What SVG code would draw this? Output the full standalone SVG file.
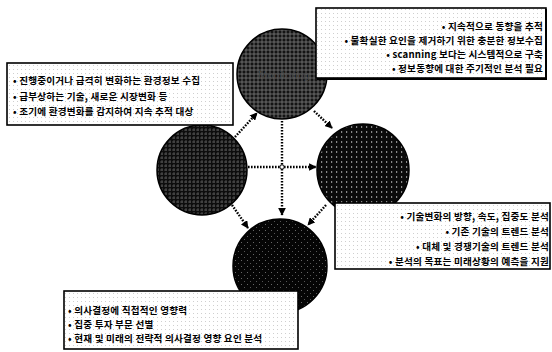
<svg xmlns="http://www.w3.org/2000/svg" width="552" height="352" viewBox="0 0 552 352">
<defs>
<pattern id="meshA" width="4" height="4" patternUnits="userSpaceOnUse">
<rect width="4" height="4" fill="#141414"/>
<path d="M0 2H4M2 0V4" stroke="#7a7a7a" stroke-width="0.8"/>
</pattern>
<pattern id="meshB" width="4" height="4" patternUnits="userSpaceOnUse">
<rect width="4" height="4" fill="#0d0d0d"/>
<path d="M0 2H3M2 0V3" stroke="#666" stroke-width="0.7"/>
</pattern>
<pattern id="meshC" width="5" height="5" patternUnits="userSpaceOnUse">
<rect width="5" height="5" fill="#0a0a0a"/>
<rect x="1" y="1" width="1.2" height="2" fill="#888"/>
</pattern>
<pattern id="meshD" width="6" height="6" patternUnits="userSpaceOnUse">
<rect width="6" height="6" fill="#050505"/>
<rect x="1" y="2" width="1" height="1" fill="#666"/>
<rect x="4" y="5" width="1" height="1" fill="#555"/>
</pattern>
<pattern id="dots" width="4" height="4" patternUnits="userSpaceOnUse">
<rect width="4" height="4" fill="#fff"/>
<rect x="1" y="1" width="1" height="1" fill="#cfcfcf"/>
</pattern>
<marker id="ah" viewBox="0 0 10 10" refX="9" refY="5" markerWidth="3.2" markerHeight="3.2" orient="auto" markerUnits="strokeWidth">
<path d="M0 0L10 5L0 10Z" fill="#000"/>
</marker>
<style>
.c{stroke:#000;stroke-width:1.5}
.box{fill:url(#dots);stroke:#000;stroke-width:1.6}
.t{font-family:"Noto Sans CJK KR","Noto Sans",sans-serif;font-size:9.6px;font-weight:bold;letter-spacing:0.2px;fill:#000}
.e{text-anchor:end}
.lbl{font-family:"Liberation Sans",Arial,sans-serif;font-size:11px;fill:#4a4a4a;text-anchor:middle}
.cn{fill:none;stroke:#000;stroke-width:2.4;stroke-dasharray:1.6 1.4;marker-end:url(#ah)}
</style>
</defs>
<rect width="552" height="352" fill="#fff"/>
<g id="monitoring">
<circle class="c" cx="282" cy="74" r="45" fill="url(#meshA)"/>
<text class="lbl" x="284" y="79">Monitoring</text>
</g>
<g id="scanning">
<circle class="c" cx="202" cy="170" r="45" fill="url(#meshB)"/>
</g>
<g id="forecasting">
<circle class="c" cx="363" cy="170" r="46" fill="url(#meshC)"/>
</g>
<g id="assessment">
<circle class="c" cx="280" cy="266" r="47" fill="url(#meshD)"/>
</g>
<g id="box-monitoring">
<rect class="box" x="316" y="8" width="230" height="70"/>
<path d="M546 9V79H317" fill="none" stroke="#000" stroke-width="2"/>
<text class="t e" x="543" y="30">• 지속적으로 동향을 추적</text>
<text class="t e" x="543" y="44">• 불확실한 요인을 제거하기 위한 충분한 정보수집</text>
<text class="t e" x="543" y="58">• scanning 보다는 시스템적으로 구축</text>
<text class="t e" x="543" y="72">• 정보동향에 대한 주기적인 분석 필요</text>
</g>
<g id="box-scanning">
<rect class="box" x="7" y="63" width="226" height="62"/>
<text class="t" x="13" y="84">• 진행중이거나 급격히 변화하는 환경정보 수집</text>
<text class="t" x="13" y="99.5">• 급부상하는 기술, 새로운 시장변화 등</text>
<text class="t" x="13" y="115">• 조기에 환경변화를 감지하여 지속 추적 대상</text>
</g>
<g id="box-forecasting">
<rect class="box" x="335" y="203" width="215" height="66"/>
<text class="t e" x="549" y="220">• 기술변화의 방향, 속도, 집중도 분석</text>
<text class="t e" x="549" y="235">• 기존 기술의 트렌드 분석</text>
<text class="t e" x="549" y="250">• 대체 및 경쟁기술의 트렌드 분석</text>
<text class="t e" x="549" y="265">• 분석의 목표는 미래상황의 예측을 지원</text>
</g>
<g id="box-assessment">
<rect class="box" x="64" y="291" width="234" height="58"/>
<text class="t" x="68" y="314">• 의사결정에 직접적인 영향력</text>
<text class="t" x="68" y="328">• 집중 투자 부문 선별</text>
<text class="t" x="68" y="342">• 현재 및 미래의 전략적 의사결정 영향 요인 분석</text>
</g>
<g id="connectors">
<path class="cn" d="M235 137L257 113"/>
<path class="cn" d="M314 111L332 128"/>
<path class="cn" d="M248 167H316"/>
<path class="cn" d="M282 121V215"/>
<path class="cn" d="M232 205L248 228"/>
<path class="cn" d="M326 205L308 225"/>
<circle cx="282" cy="167" r="2.2" fill="#fff" stroke="#000" stroke-width="1"/>
</g>
</svg>
